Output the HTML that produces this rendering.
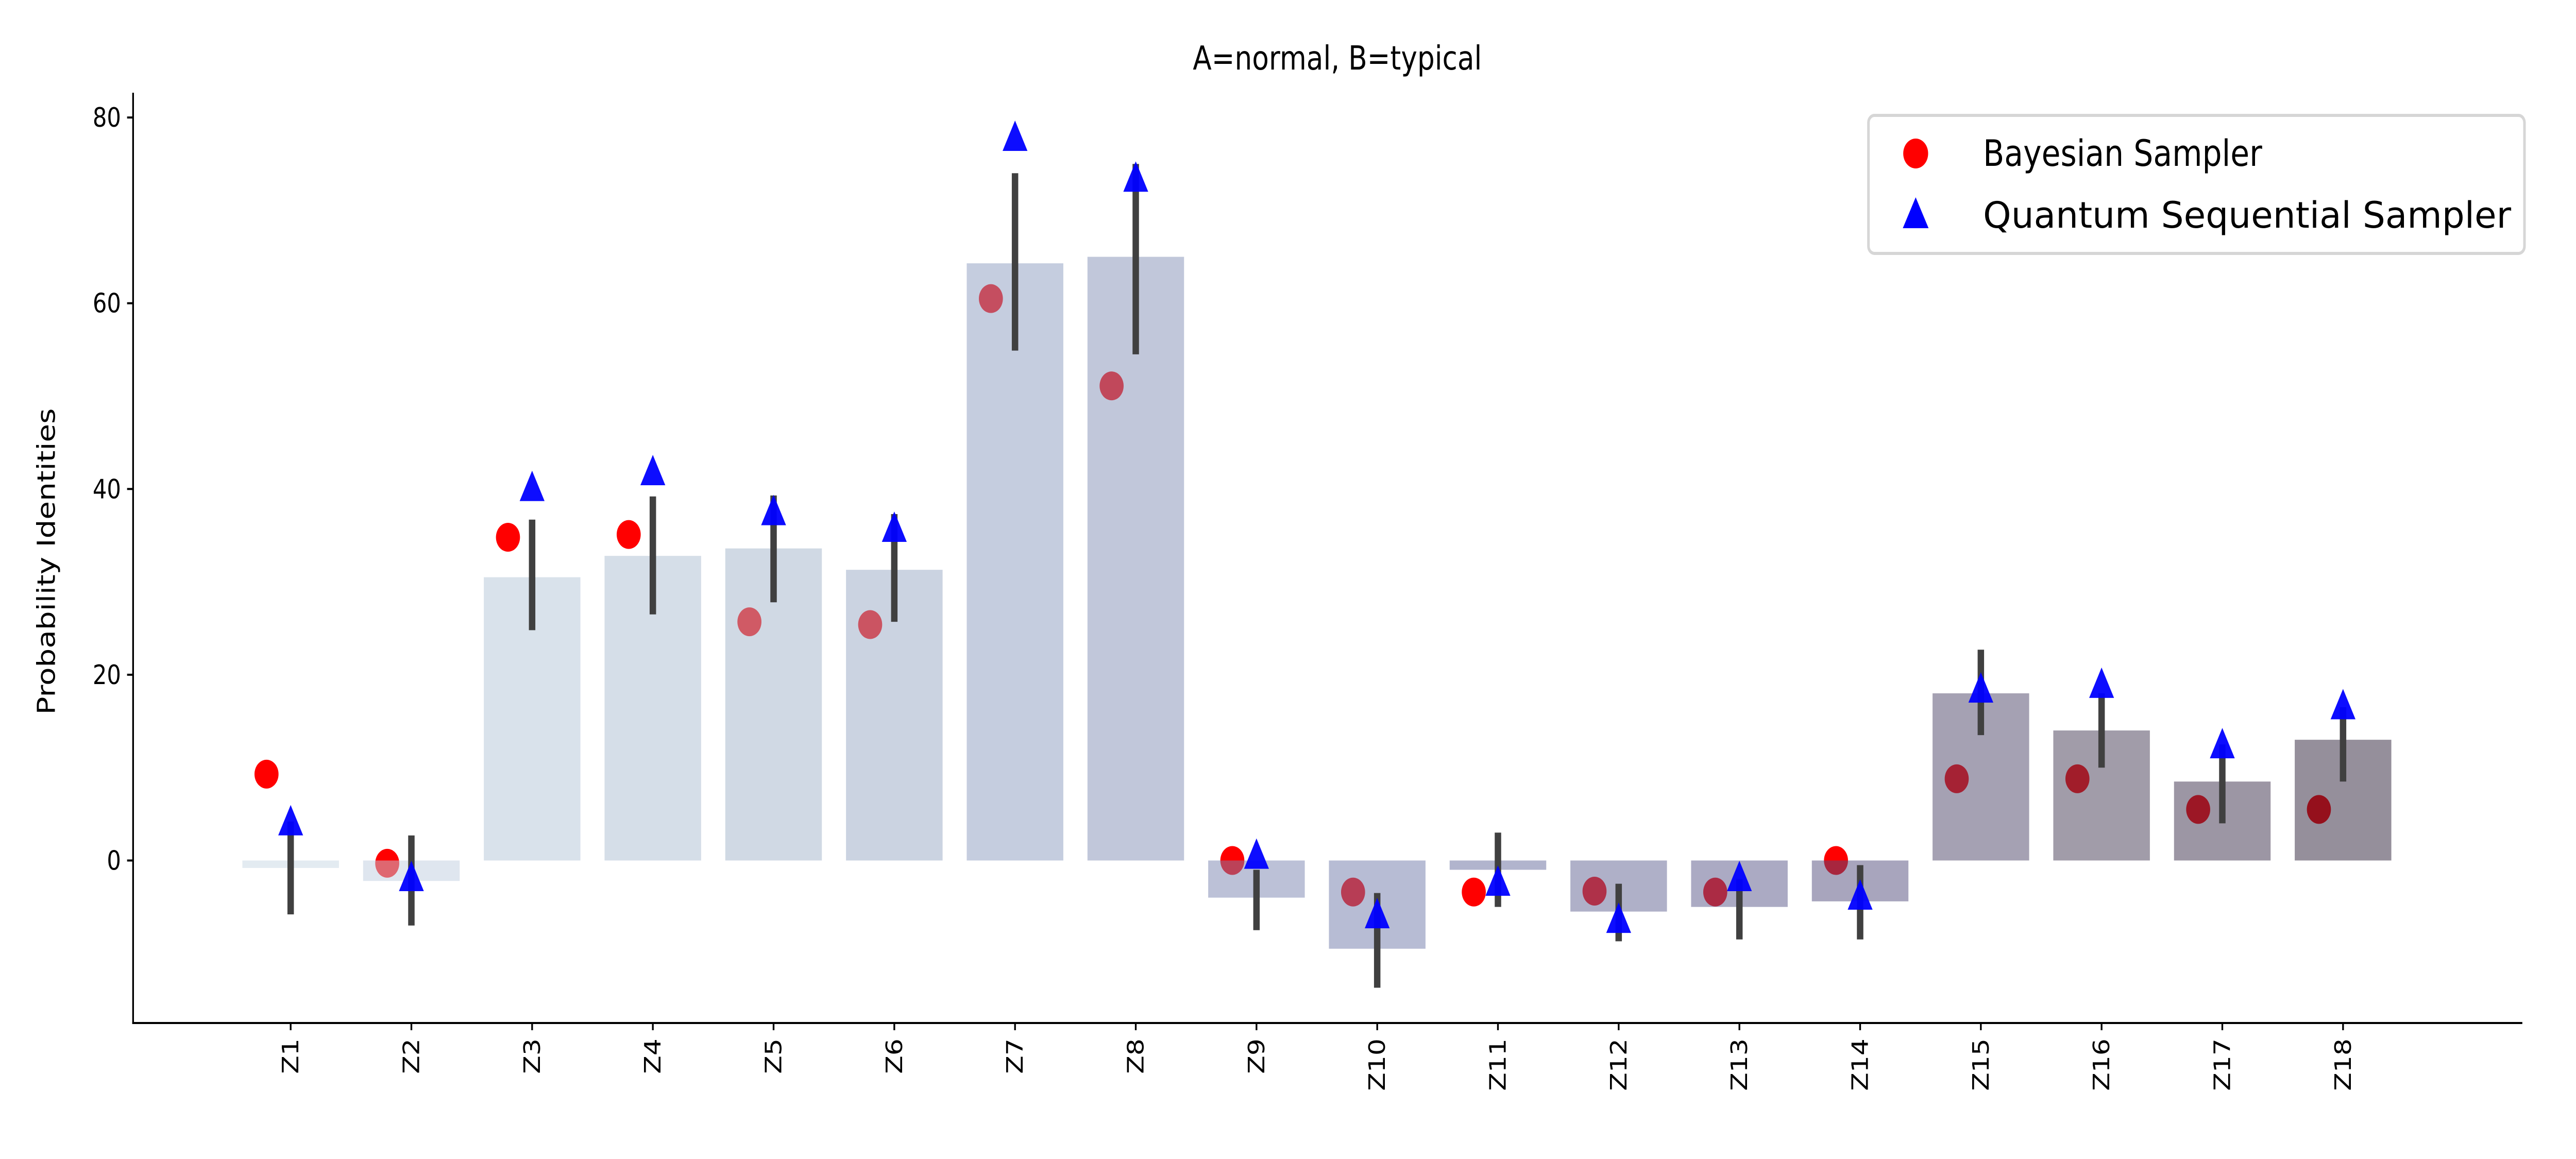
<!DOCTYPE html>
<html><head><meta charset="utf-8"><style>
html,body{margin:0;padding:0;background:#fff;width:100%;height:100%;overflow:hidden;}
svg{display:block;width:100vw;height:100vh;font-family:"DejaVu Sans","Liberation Sans",sans-serif;}
</style></head><body>
<svg id="chart" viewBox="0 0 6000 2250" preserveAspectRatio="none">
<rect width="6000" height="2250" fill="#fff"/>
<text x="3115" y="135" font-size="64" text-anchor="middle">A=normal, B=typical</text>
<g id="plot"></g>
<text transform="translate(128,1090) rotate(-90)" font-size="58" text-anchor="middle">Probability Identities</text>
<g>
<rect x="4352" y="224" width="1528" height="268" rx="14" fill="#fff" fill-opacity="0.8" stroke="#d6d6d6" stroke-width="6"/>
<circle cx="4462" cy="298" r="29" fill="#ff0000"/>
<text x="4619" y="322" font-size="70" textLength="650" lengthAdjust="spacingAndGlyphs">Bayesian Sampler</text>
<polygon points="4462,383 4492,443 4432,443" fill="#0000ff"/>
<text x="4619" y="442" font-size="70" textLength="1230" lengthAdjust="spacingAndGlyphs">Quantum Sequential Sampler</text>
</g>
</svg>
<script>
const categories = ["Z1","Z2","Z3","Z4","Z5","Z6","Z7","Z8","Z9","Z10","Z11","Z12","Z13","Z14","Z15","Z16","Z17","Z18"];
const barValues = [-0.8,-2.2,30.5,32.8,33.6,31.3,64.3,65,-4,-9.5,-1,-5.5,-5,-4.4,18,14,8.5,13];
const errLow = [-5.8,-7,24.8,26.5,27.8,25.7,54.9,54.5,-7.5,-13.7,-5,-8.7,-8.5,-8.5,13.5,10,4,8.5];
const errHigh = [4.2,2.7,36.7,39.2,39.3,37.3,74,75,-1,-3.5,3,-2.5,-2,-0.5,22.7,18,12.5,16.5];
const bayesValues = [9.3,-0.3,34.8,35.1,25.7,25.4,60.5,51.1,0,-3.4,-3.4,-3.3,-3.4,0,8.8,8.8,5.5,5.5];
const qssValues = [4.2,-1.8,40.2,41.9,37.6,35.8,77.9,73.5,0.6,-5.8,-2.3,-6.3,-1.8,-3.8,18.5,19,12.5,16.7];
const yTicks = [0,20,40,60,80];

const barColors = ["#e3ebf1","#dfe6ef","#d9e2eb","#d5dee8","#d0d9e4","#cbd3e1","#c5cddf","#c1c7da","#bcc1d7","#b7bcd4","#b1b4cd","#afb0c8","#abaac3","#a8a5bd","#a5a1b3","#a19ca9","#9c96a4","#958f9b"];
const L=310,R=5875,T=180,B=1986,Y0=1670.5,PPU=18.03;
const X1=677,STEP=281.2,BW=0.8*STEP;
const NS="http://www.w3.org/2000/svg";
const plot=document.getElementById('plot');
function y(v){return Y0-v*PPU;}
function x(i){return X1+i*STEP;}
function mk(tag,attrs){const e=document.createElementNS(NS,tag);for(const k in attrs)e.setAttribute(k,attrs[k]);plot.appendChild(e);return e;}
function alphaFill(hex){const n=parseInt(hex.slice(1),16);const c=[n>>16,(n>>8)&255,n&255].map(v=>Math.max(0,2*v-255));return `rgb(${c.join(',')})`;}

bayesValues.forEach((v,i)=>{
  const c=mk('circle',{cx:x(i)-0.2*STEP,cy:y(v),r:28,fill:'#ff0000'});
  
  
});
barValues.forEach((v,i)=>{
  const top=Math.min(y(v),y(0)),h=Math.abs(y(v)-y(0));
  const r=mk('rect',{x:x(i)-BW/2,y:top,width:BW,height:h,fill:alphaFill(barColors[i]),'fill-opacity':0.5});
  
  
});
errLow.forEach((lo,i)=>{
  const l=mk('line',{x1:x(i),x2:x(i),y1:y(lo),y2:y(errHigh[i]),stroke:'#404040','stroke-width':15});
  
  
});
qssValues.forEach((v,i)=>{
  const cx=x(i),cy=y(v);
  const p=mk('polygon',{points:`${cx},${cy-32} ${cx+29},${cy+27} ${cx-29},${cy+27}`,fill:'#0000ff','fill-opacity':0.95});
  
  
});
const ax1=mk('line',{x1:L,x2:L,y1:T,y2:B+2,stroke:'#000','stroke-width':4});


const ax2=mk('line',{x1:L-2,x2:R,y1:B,y2:B,stroke:'#000','stroke-width':4});


yTicks.forEach(t=>{
  const tl=mk('line',{x1:L-14,x2:L,y1:y(t),y2:y(t),stroke:'#000','stroke-width':4});
  
  
  const tx=mk('text',{x:L-28,y:y(t)+18,'font-size':52,'text-anchor':'end'});
  tx.textContent=t;
  
  
});
categories.forEach((c,i)=>{
  const tl=mk('line',{x1:x(i),x2:x(i),y1:B,y2:B+14,stroke:'#000','stroke-width':4});
  
  
  const tx=mk('text',{transform:`translate(${x(i)+18},${B+30}) rotate(-90)`,'font-size':52,'text-anchor':'end'});
  tx.textContent=c;
  
  
});
</script>
</body></html>
